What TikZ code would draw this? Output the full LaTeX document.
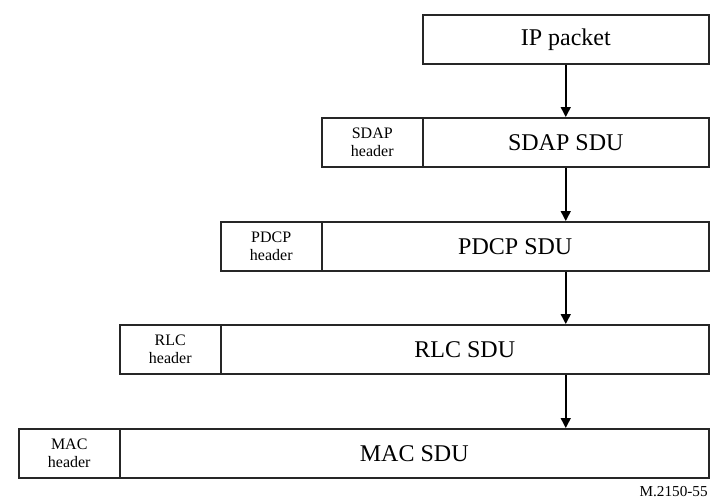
\documentclass[tikz,border=0pt]{standalone}
\usepackage{fontspec}
\setmainfont{Liberation Serif}
\usetikzlibrary{arrows.meta}
\begin{document}
\begin{tikzpicture}[x=0.5pt,y=-0.5pt,
  box/.style={draw=black!85, line width=0.75pt, inner sep=0pt, anchor=north west, minimum height=24.5pt, font=\fontsize{12}{14}\selectfont},
  hdr/.style={box, minimum width=50.5pt, font=\fontsize{8}{8.6}\selectfont, align=center},
  flow/.style={line width=0.75pt, -{Triangle[length=5pt,width=5pt]}}]
\useasboundingbox (0,0) rectangle (710,503);
\node[box, minimum width=143pt] (ip) at (422,14) {IP packet};
\node[hdr] (sdaph) at (321,117) {SDAP\\header};
\node[box, minimum width=143pt] (sdap) at (422,117) {SDAP SDU};
\node[hdr] (pdcph) at (220,221) {PDCP\\header};
\node[box, minimum width=193.5pt] (pdcp) at (321,221) {PDCP SDU};
\node[hdr] (rlch) at (119,324) {RLC\\header};
\node[box, minimum width=244pt] (rlc) at (220,324) {RLC SDU};
\node[hdr] (mach) at (18,428) {MAC\\header};
\node[box, minimum width=294.5pt] (mac) at (119,428) {MAC SDU};
\node[anchor=east, inner sep=0pt, font=\fontsize{7.6}{8}\selectfont] (ref) at (708,492) {M.2150-55};
\draw[flow] (ip.south) -- (sdap.north);
\draw[flow] (sdap.south) -- (sdap.south |- pdcp.north);
\draw[flow] (sdap.south |- pdcp.south) -- (sdap.south |- rlc.north);
\draw[flow] (sdap.south |- rlc.south) -- (sdap.south |- mac.north);
\end{tikzpicture}
\end{document}
